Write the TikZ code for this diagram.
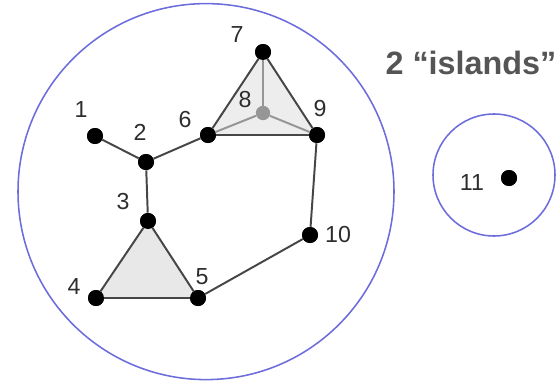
\documentclass[tikz,border=0pt]{standalone}
\usepackage{fontspec}
\setmainfont{Liberation Sans}
\usepackage{tikz}
\usetikzlibrary{positioning}
\definecolor{ring}{RGB}{108,108,220}
\definecolor{edgegray}{RGB}{70,70,70}
\definecolor{softgray}{RGB}{150,150,150}
\definecolor{labelgray}{RGB}{45,45,45}
\definecolor{titlegray}{RGB}{85,85,85}
\tikzset{
    dot/.style={circle, fill=black, inner sep=0pt, minimum size=0.4cm},
    lbl/.style={text=labelgray, inner sep=0pt, font=\fontsize{16.5}{19}\selectfont},
    link/.style={draw=edgegray, line width=1.4pt},
    softlink/.style={draw=softgray, line width=1.4pt},
    island/.style={draw=ring, line width=1.1pt}
}

\begin{document}
\begin{tikzpicture}
    \useasboundingbox (0,0) rectangle (14,9.6);

    % islands
    \draw[island] (5.15,4.81) circle (4.7);
    \draw[island] (12.35,5.225) circle (1.525);
    \node[font=\bfseries\fontsize{23}{27}\selectfont, text=titlegray] (title) at (11.775,8.025) {2 “islands”};

    % vertices
    \node[dot] (n1) at (2.375,6.2) {};
    \node[dot] (n2) at (3.65,5.55) {};
    \node[dot] (n3) at (3.7,4.075) {};
    \node[dot] (n4) at (2.4,2.15) {};
    \node[dot] (n5) at (4.95,2.15) {};
    \node[dot] (n6) at (5.2,6.225) {};
    \node[dot] (n7) at (6.575,8.3) {};
    \node[dot, fill=softgray, minimum size=0.36cm] (n8) at (6.575,6.775) {};
    \node[dot] (n9) at (7.925,6.225) {};
    \node[dot] (n10) at (7.75,3.725) {};
    \node[dot] (n11) at (12.725,5.15) {};

    % shaded triangles
    \fill[black!9] (n3.center) -- (n4.center) -- (n5.center) -- cycle;
    \fill[black!7] (n6.center) -- (n7.center) -- (n9.center) -- cycle;

    % edges
    \foreach \a/\b in {n1/n2, n2/n3, n2/n6, n3/n4, n3/n5, n4/n5, n5/n10, n10/n9, n6/n9, n6/n7, n7/n9} {
        \draw[link] (\a) -- (\b);
    }
    \foreach \a in {n6, n7, n9} {
        \draw[softlink] (\a) -- (n8);
    }

    % redraw the dots over the fills
    \foreach \n in {n1, n2, n3, n4, n5, n6, n7, n9, n10, n11} {
        \fill (\n) circle (0.2);
    }
    \fill[softgray] (n8) circle (0.18);

    % labels
    \node[lbl] (l1) at (2.025,6.85) {1};
    \node[lbl] (l2) at (3.5,6.3) {2};
    \node[lbl] (l3) at (3.075,4.55) {3};
    \node[lbl] (l4) at (1.85,2.425) {4};
    \node[lbl] (l5) at (5.05,2.675) {5};
    \node[lbl] (l6) at (4.625,6.6) {6};
    \node[lbl] (l7) at (5.925,8.725) {7};
    \node[lbl] (l8) at (6.125,7.1) {8};
    \node[lbl] (l9) at (8.0,6.875) {9};
    \node[lbl] (l10) at (8.45,3.725) {10};
    \node[lbl] (l11) at (11.8,5.025) {11};
\end{tikzpicture}
\end{document}
